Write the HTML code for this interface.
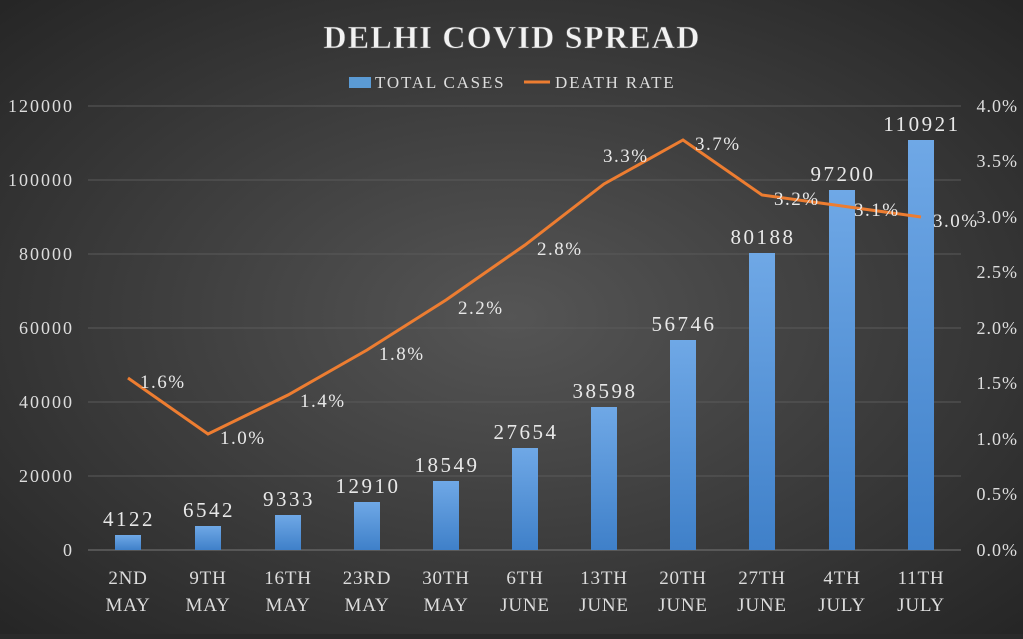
<!DOCTYPE html>
<html><head><style>
body{margin:0;width:1023px;height:634px;overflow:hidden;background:#2a2a2a}
</style></head><body>
<svg width="1023" height="634" xmlns="http://www.w3.org/2000/svg" font-family="Liberation Serif, serif">
<defs>
<radialGradient id="bg" cx="50%" cy="50%" r="70%">
<stop offset="0" stop-color="#555"/><stop offset="1" stop-color="#262626"/>
</radialGradient>
<linearGradient id="bar" x1="0" y1="0" x2="0" y2="1">
<stop offset="0" stop-color="#6fa8e6"/><stop offset="1" stop-color="#3f80c9"/>
</linearGradient>
</defs>
<rect width="1023" height="634" fill="url(#bg)"/>
<text x="512" y="48" text-anchor="middle" font-size="32" font-weight="bold" fill="#f2f2f2" stroke="#555" stroke-width="0.6" letter-spacing="1.3">DELHI COVID SPREAD</text>
<rect x="349" y="77" width="22" height="11" fill="#5b9bd5"/>
<text x="375" y="88" font-size="17" fill="#ddd" letter-spacing="1.8">TOTAL CASES</text>
<line x1="524" y1="82" x2="550" y2="82" stroke="#ed7d31" stroke-width="3"/>
<text x="555" y="88" font-size="17" fill="#ddd" letter-spacing="1.8">DEATH RATE</text>
<g stroke="#5a5a5a" stroke-width="1">
<line x1="88" y1="106" x2="961" y2="106"/><line x1="88" y1="180" x2="961" y2="180"/>
<line x1="88" y1="254" x2="961" y2="254"/><line x1="88" y1="328" x2="961" y2="328"/>
<line x1="88" y1="402" x2="961" y2="402"/><line x1="88" y1="476" x2="961" y2="476"/>
<line x1="88" y1="550" x2="961" y2="550" stroke="#777"/>
</g>
<g font-size="18" fill="#ddd" text-anchor="end" letter-spacing="2">
<text x="74" y="112">120000</text><text x="74" y="186">100000</text><text x="74" y="260">80000</text>
<text x="74" y="334">60000</text><text x="74" y="408">40000</text><text x="74" y="482">20000</text><text x="74" y="556">0</text>
</g>
<g font-size="18" fill="#ddd" text-anchor="end" letter-spacing="1">
<text x="1018" y="112">4.0%</text><text x="1018" y="167">3.5%</text><text x="1018" y="223">3.0%</text>
<text x="1018" y="278">2.5%</text><text x="1018" y="334">2.0%</text><text x="1018" y="389">1.5%</text>
<text x="1018" y="445">1.0%</text><text x="1018" y="500">0.5%</text><text x="1018" y="556">0.0%</text>
</g>
<g fill="url(#bar)">
<rect x="115" y="535" width="26" height="15"/><rect x="195" y="526" width="26" height="24"/>
<rect x="275" y="515" width="26" height="35"/><rect x="354" y="502" width="26" height="48"/>
<rect x="433" y="481" width="26" height="69"/><rect x="512" y="448" width="26" height="102"/>
<rect x="591" y="407" width="26" height="143"/><rect x="670" y="340" width="26" height="210"/>
<rect x="749" y="253" width="26" height="297"/><rect x="829" y="190" width="26" height="360"/>
<rect x="908" y="140" width="26" height="410"/>
</g>
<g font-size="21" fill="#e8e8e8" text-anchor="middle" letter-spacing="2.5">
<text x="129" y="526">4122</text><text x="209" y="517">6542</text><text x="289" y="506">9333</text>
<text x="368" y="493">12910</text><text x="447" y="472">18549</text><text x="526" y="439">27654</text>
<text x="605" y="398">38598</text><text x="684" y="331">56746</text><text x="763" y="244">80188</text>
<text x="843" y="181">97200</text><text x="922" y="131">110921</text>
</g>
<polyline fill="none" stroke="#ed7d31" stroke-width="3" points="128,378 208,434 288,395 367,350 446,300 525,245 604,184 683,140 762,195 842,206 921,217"/>
<g font-size="19" fill="#e8e8e8" letter-spacing="1.5">
<text x="140" y="388">1.6%</text><text x="220" y="444">1.0%</text><text x="300" y="407">1.4%</text>
<text x="379" y="360">1.8%</text><text x="458" y="314">2.2%</text><text x="537" y="255">2.8%</text>
<text x="603" y="162">3.3%</text><text x="695" y="150">3.7%</text><text x="774" y="205">3.2%</text>
<text x="854" y="216">3.1%</text><text x="933" y="227">3.0%</text>
</g>
<g font-size="19" fill="#ddd" text-anchor="middle" letter-spacing="0.8">
<text x="128" y="584">2ND</text><text x="128" y="611">MAY</text>
<text x="208" y="584">9TH</text><text x="208" y="611">MAY</text>
<text x="288" y="584">16TH</text><text x="288" y="611">MAY</text>
<text x="367" y="584">23RD</text><text x="367" y="611">MAY</text>
<text x="446" y="584">30TH</text><text x="446" y="611">MAY</text>
<text x="525" y="584">6TH</text><text x="525" y="611">JUNE</text>
<text x="604" y="584">13TH</text><text x="604" y="611">JUNE</text>
<text x="683" y="584">20TH</text><text x="683" y="611">JUNE</text>
<text x="762" y="584">27TH</text><text x="762" y="611">JUNE</text>
<text x="842" y="584">4TH</text><text x="842" y="611">JULY</text>
<text x="921" y="584">11TH</text><text x="921" y="611">JULY</text>
</g>
</svg>
</body></html>
